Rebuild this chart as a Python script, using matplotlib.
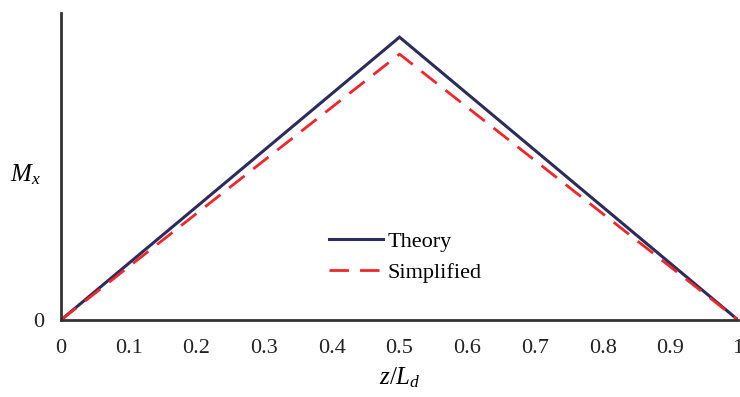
import matplotlib
matplotlib.use("Agg")
import matplotlib.pyplot as plt

z = [0.0, 0.5, 1.0]
theory = [0.0, 1.0, 0.0]
simplified = [0.0, 0.94, 0.0]
xticks = [0, 0.1, 0.2, 0.3, 0.4, 0.5, 0.6, 0.7, 0.8, 0.9, 1]
xticklabels = ["0", "0.1", "0.2", "0.3", "0.4", "0.5", "0.6", "0.7", "0.8", "0.9", "1"]

plt.rcParams['font.family'] = ['Liberation Serif', 'DejaVu Serif']
plt.rcParams['mathtext.fontset'] = 'custom'
plt.rcParams['mathtext.it'] = 'Liberation Serif:italic'
plt.rcParams['mathtext.rm'] = 'Liberation Serif'

fig = plt.figure(figsize=(7.4, 3.97), dpi=100)
ax = fig.add_axes([0.0824, 0.194, 0.915, 0.773])

ax.plot(z, theory, color='#2b2c5c', lw=2.2, label='Theory', solid_joinstyle='miter')
ax.plot(z, simplified, color='#f0262a', lw=2.0, ls=(0, (7, 4)), label='Simplified')

ax.set_xlim(0, 1)
ax.set_ylim(0, 1.085)
ax.set_xticks(xticks)
ax.set_xticklabels(xticklabels)
ax.set_yticks([0])
ax.set_yticklabels(["0"])
ax.tick_params(axis='both', length=0, labelsize=16, colors='#222222')
ax.tick_params(axis='x', pad=14)
ax.tick_params(axis='y', pad=12)

for s in ['top', 'right']:
    ax.spines[s].set_visible(False)
for s in ['left', 'bottom']:
    ax.spines[s].set_color('#333333')
    ax.spines[s].set_linewidth(2.0)

ax.set_xlabel(r'$z/L_d$', fontsize=18, labelpad=5)
fig.text(0.013, 0.56, r'$M_x$', fontsize=18, ha='left', va='center')

leg = ax.legend(loc='center left', bbox_to_anchor=(0.38, 0.205), frameon=False,
                fontsize=16, handlelength=2.4, handletextpad=0.2, labelspacing=0.45,
                borderpad=0)

fig.savefig('out.png', dpi=100)
